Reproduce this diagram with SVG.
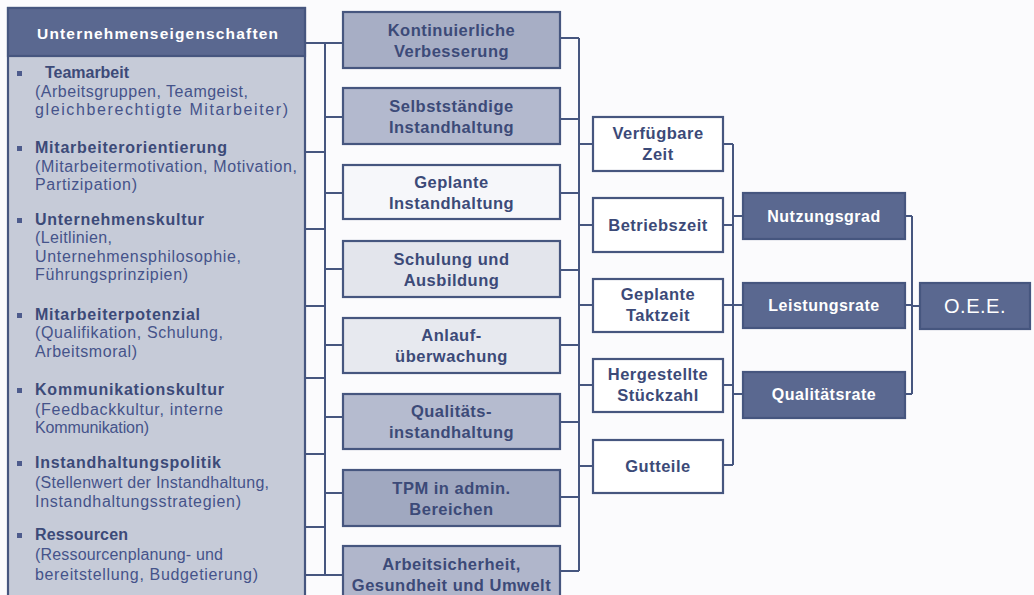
<svg xmlns="http://www.w3.org/2000/svg" width="1034" height="595" viewBox="0 0 1034 595">
<style>
text{font-family:"Liberation Sans",Arial,sans-serif}
.ln{stroke:#46567f;stroke-width:2;fill:none}
.bx{stroke:#46567f;stroke-width:2.2}
.mt{font-size:16.5px;font-weight:bold;fill:#3c4a78;text-anchor:middle;letter-spacing:0.5px}
.dk{fill:#5a6890}
.wt{font-size:16px;font-weight:bold;fill:#ffffff;text-anchor:middle;letter-spacing:0.5px}
.hd{font-size:16px;font-weight:bold;fill:#3c4a78}
.sb{font-size:16px;fill:#45538a}
.bl{fill:#4d5b8c}
</style>
<rect x="0" y="0" width="1034" height="595" fill="#fbfbfd"/>

<g id="connectors">
<path class="ln" d="M305 43H343M305 152H325M305 229H325M305 306H325M305 378H325M305 454H325M305 527H325M305 575H343"/>
<path class="ln" d="M325 43V575"/>
<path class="ln" d="M325 117H343M325 193H343M325 269H343M325 345H343M325 417H343M325 493H343"/>
<path class="ln" d="M560 38H579M560 119H579M560 193H579M560 270H579M560 345H579M560 422H579M560 497H579M560 571H579"/>
<path class="ln" d="M579 38V571"/>
<path class="ln" d="M579 144H593M579 225H593M579 305H593M579 385H593M579 466H593"/>
<path class="ln" d="M723 144H733M723 225H733M723 305H733M723 385H733M723 465H733"/>
<path class="ln" d="M733 144V465"/>
<path class="ln" d="M733 216H743M733 305H743M733 394H743"/>
<path class="ln" d="M905 216H912M905 305H912M905 394H912"/>
<path class="ln" d="M912 216V394"/>
<path class="ln" d="M912 306H920"/>
</g>

<g id="unternehmenseigenschaften">
<rect x="8" y="8" width="297" height="600" fill="#c6cbd8" class="bx"/>
<rect x="8" y="8" width="297" height="48" class="dk bx"/>
<text x="37" y="38.5" textLength="241" style="font-size:15.5px;font-weight:bold;fill:#ffffff">Unternehmenseigenschaften</text>
<rect class="bl" x="17" y="71" width="5" height="5"/>
<text class="hd" x="45" y="78" textLength="84">Teamarbeit</text>
<text class="sb" x="35" y="97" textLength="213">(Arbeitsgruppen, Teamgeist,</text>
<text class="sb" x="35" y="115" textLength="253">gleichberechtigte Mitarbeiter)</text>
<rect class="bl" x="17" y="146" width="5" height="5"/>
<text class="hd" x="35" y="153" textLength="192">Mitarbeiterorientierung</text>
<text class="sb" x="35" y="172" textLength="262">(Mitarbeitermotivation, Motivation,</text>
<text class="sb" x="35" y="190" textLength="102">Partizipation)</text>
<rect class="bl" x="17" y="218" width="5" height="5"/>
<text class="hd" x="35" y="225" textLength="169">Unternehmenskultur</text>
<text class="sb" x="35" y="243" textLength="77">(Leitlinien,</text>
<text class="sb" x="35" y="262" textLength="206">Unternehmensphilosophie,</text>
<text class="sb" x="35" y="280" textLength="153">Führungsprinzipien)</text>
<rect class="bl" x="17" y="313" width="5" height="5"/>
<text class="hd" x="35" y="320" textLength="165">Mitarbeiterpotenzial</text>
<text class="sb" x="35" y="338" textLength="188">(Qualifikation, Schulung,</text>
<text class="sb" x="35" y="357" textLength="102">Arbeitsmoral)</text>
<rect class="bl" x="17" y="388" width="5" height="5"/>
<text class="hd" x="35" y="395" textLength="189">Kommunikationskultur</text>
<text class="sb" x="35" y="415" textLength="188">(Feedbackkultur, interne</text>
<text class="sb" x="35" y="433" textLength="114">Kommunikation)</text>
<rect class="bl" x="17" y="461" width="5" height="5"/>
<text class="hd" x="35" y="468" textLength="186">Instandhaltungspolitik</text>
<text class="sb" x="35" y="488" textLength="234">(Stellenwert der Instandhaltung,</text>
<text class="sb" x="35" y="507" textLength="206">Instandhaltungsstrategien)</text>
<rect class="bl" x="17" y="533" width="5" height="5"/>
<text class="hd" x="35" y="540" textLength="93">Ressourcen</text>
<text class="sb" x="35" y="560" textLength="188">(Ressourcenplanung- und</text>
<text class="sb" x="35" y="580" textLength="223">bereitstellung, Budgetierung)</text>
</g>

<g id="kontinuierliche-verbesserung">
<rect x="343" y="12" width="217" height="56" fill="#a7aec5" class="bx"/>
<text class="mt" x="451.5" y="36">Kontinuierliche</text>
<text class="mt" x="451.5" y="57">Verbesserung</text>
</g>
<g id="selbststaendige-instandhaltung">
<rect x="343" y="88" width="217" height="56" fill="#b3b9ce" class="bx"/>
<text class="mt" x="451.5" y="112">Selbstständige</text>
<text class="mt" x="451.5" y="133">Instandhaltung</text>
</g>
<g id="geplante-instandhaltung">
<rect x="343" y="165" width="217" height="54" fill="#f6f7fa" class="bx"/>
<text class="mt" x="451.5" y="188">Geplante</text>
<text class="mt" x="451.5" y="209">Instandhaltung</text>
</g>
<g id="schulung-ausbildung">
<rect x="343" y="241" width="217" height="56" fill="#e3e5ec" class="bx"/>
<text class="mt" x="451.5" y="265">Schulung und</text>
<text class="mt" x="451.5" y="286">Ausbildung</text>
</g>
<g id="anlaufueberwachung">
<rect x="343" y="318" width="217" height="55" fill="#e7e9ef" class="bx"/>
<text class="mt" x="451.5" y="341">Anlauf-</text>
<text class="mt" x="451.5" y="362">überwachung</text>
</g>
<g id="qualitaetsinstandhaltung">
<rect x="343" y="394" width="217" height="55" fill="#b5bbcf" class="bx"/>
<text class="mt" x="451.5" y="417">Qualitäts-</text>
<text class="mt" x="451.5" y="438">instandhaltung</text>
</g>
<g id="tpm-admin">
<rect x="343" y="470" width="217" height="56" fill="#a0a8c0" class="bx"/>
<text class="mt" x="451.5" y="494">TPM in admin.</text>
<text class="mt" x="451.5" y="515">Bereichen</text>
</g>
<g id="arbeitssicherheit">
<rect x="343" y="546" width="217" height="60" fill="#b0b6cb" class="bx"/>
<text class="mt" x="451.5" y="570">Arbeitsicherheit,</text>
<text class="mt" x="451.5" y="591">Gesundheit und Umwelt</text>
</g>

<g id="verfuegbare-zeit">
<rect x="593" y="117" width="130" height="54" fill="#ffffff" class="bx"/>
<text class="mt" x="658" y="139">Verfügbare</text>
<text class="mt" x="658" y="160">Zeit</text>
</g>
<g id="betriebszeit">
<rect x="593" y="198" width="130" height="54" fill="#ffffff" class="bx"/>
<text class="mt" x="658" y="231">Betriebszeit</text>
</g>
<g id="geplante-taktzeit">
<rect x="593" y="279" width="130" height="53" fill="#ffffff" class="bx"/>
<text class="mt" x="658" y="300">Geplante</text>
<text class="mt" x="658" y="321">Taktzeit</text>
</g>
<g id="hergestellte-stueckzahl">
<rect x="593" y="359" width="130" height="53" fill="#ffffff" class="bx"/>
<text class="mt" x="658" y="380">Hergestellte</text>
<text class="mt" x="658" y="401">Stückzahl</text>
</g>
<g id="gutteile">
<rect x="593" y="440" width="130" height="53" fill="#ffffff" class="bx"/>
<text class="mt" x="658" y="472">Gutteile</text>
</g>

<g id="nutzungsgrad">
<rect x="743" y="193" width="162" height="46" class="dk bx"/>
<text class="wt" x="824" y="222">Nutzungsgrad</text>
</g>
<g id="leistungsrate">
<rect x="743" y="283" width="162" height="45" class="dk bx"/>
<text class="wt" x="824" y="311">Leistungsrate</text>
</g>
<g id="qualitaetsrate">
<rect x="743" y="372" width="162" height="46" class="dk bx"/>
<text class="wt" x="824" y="400">Qualitätsrate</text>
</g>
<g id="oee">
<rect x="920" y="283" width="110" height="46" class="dk bx"/>
<text x="975" y="313" style="font-size:20px;fill:#ffffff;text-anchor:middle;letter-spacing:0.5px">O.E.E.</text>
</g>
</svg>
